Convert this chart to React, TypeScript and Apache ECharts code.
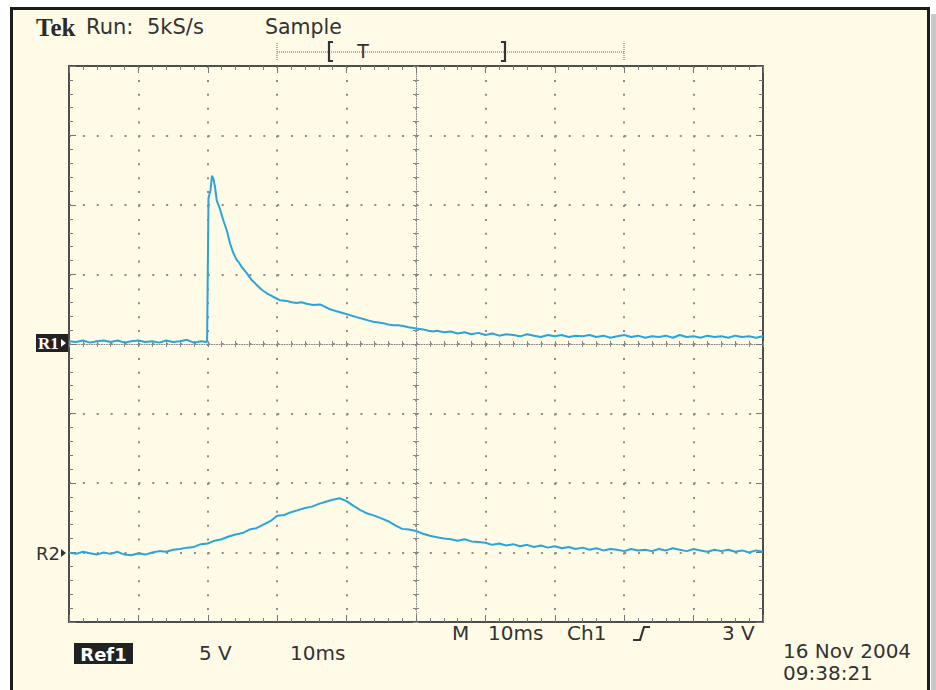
import React, { useEffect, useRef } from "react";
import * as echarts from "echarts";

// Time in ms (10 ms/div), level in screen divisions (R1 ref at 0, R2 ref at -3)
const r1Points: [number, number][] = [
  [0, 0.04], [1, 0.03], [2, 0.05], [3, 0.02], [4, 0.04], [5, 0.05], [6, 0.03], [7, 0.05], [8, 0.02], [9, 0.04],
  [10, 0.05], [11, 0.03], [12, 0.04], [13, 0.02], [14, 0.05], [15, 0.03], [16, 0.04], [17, 0.06], [18, 0.02], [19, 0.04],
  [19.9, 0.03], [20.1, 2.1], [20.4, 2.22], [20.6, 2.42], [20.8, 2.38], [21.04, 2.26], [21.28, 2.07], [21.76, 1.94],
  [22.23, 1.78], [22.72, 1.64], [23.2, 1.45], [23.63, 1.32], [24.16, 1.21], [24.5, 1.17], [24.88, 1.11], [25.61, 1.02],
  [26.33, 0.92], [27.05, 0.85], [27.77, 0.78], [28.49, 0.73], [29.4, 0.68], [30.4, 0.63], [31.37, 0.62], [32.1, 0.6],
  [32.81, 0.59], [33.5, 0.6], [34.25, 0.58], [35.2, 0.56], [36.17, 0.57], [36.6, 0.55], [37.61, 0.5], [38.58, 0.47],
  [39.3, 0.45], [40.02, 0.43], [40.97, 0.4], [41.7, 0.38], [42.41, 0.36], [43.1, 0.34], [43.85, 0.32], [44.6, 0.31],
  [45.29, 0.3], [46.0, 0.28], [46.73, 0.27], [47.4, 0.27], [48.17, 0.26], [48.9, 0.24], [49.61, 0.23], [50.3, 0.22],
  [51.05, 0.21], [51.8, 0.19], [52.5, 0.18], [53, 0.19], [54, 0.17], [55, 0.18], [56, 0.15], [57, 0.17], [58, 0.14],
  [59, 0.16], [60, 0.13], [61, 0.15], [62, 0.12], [63, 0.14], [64, 0.13], [65, 0.11], [66, 0.14], [67, 0.12],
  [68, 0.1], [69, 0.13], [70, 0.11], [71, 0.13], [72, 0.1], [73, 0.12], [74, 0.11], [75, 0.13], [76, 0.1], [77, 0.12],
  [78, 0.09], [79, 0.11], [80, 0.13], [81, 0.1], [82, 0.12], [83, 0.09], [84, 0.11], [85, 0.1], [86, 0.12], [87, 0.09],
  [88, 0.13], [89, 0.1], [90, 0.11], [91, 0.09], [92, 0.12], [93, 0.1], [94, 0.11], [95, 0.09], [96, 0.12], [97, 0.1],
  [98, 0.11], [99, 0.09], [100, 0.11],
];

const r2Points: [number, number][] = [
  [0, -3.0], [1, -3.02], [2, -2.99], [3, -3.01], [4, -3.03], [5, -3.0], [6, -3.02], [7, -2.99], [8, -3.03], [9, -3.04],
  [10, -3.01], [11, -3.03], [12, -3.0], [13, -2.98], [14, -2.99], [15, -2.96], [16, -2.95], [17, -2.93], [18, -2.92],
  [19, -2.88], [20, -2.87], [21, -2.83], [22, -2.81], [23, -2.77], [24, -2.74], [25, -2.72], [26, -2.67], [27, -2.65],
  [28, -2.6], [29, -2.55], [30, -2.47], [31, -2.46], [32, -2.42], [33, -2.39], [34, -2.36], [35, -2.34], [36, -2.3],
  [37, -2.27], [38, -2.24], [39, -2.22], [40, -2.26], [41, -2.33], [42, -2.39], [43, -2.44], [44, -2.47], [45, -2.51],
  [46, -2.55], [47, -2.61], [48, -2.66], [49, -2.67], [50, -2.69], [51, -2.73], [52, -2.76], [53, -2.78], [54, -2.8],
  [55, -2.81], [56, -2.83], [57, -2.81], [58, -2.84], [59, -2.85], [60, -2.86], [61, -2.89], [62, -2.87], [63, -2.9],
  [64, -2.88], [65, -2.91], [66, -2.89], [67, -2.92], [68, -2.9], [69, -2.93], [70, -2.91], [71, -2.94], [72, -2.92],
  [73, -2.95], [74, -2.93], [75, -2.96], [76, -2.94], [77, -2.97], [78, -2.95], [79, -2.96], [80, -2.98], [81, -2.95],
  [82, -2.97], [83, -2.96], [84, -2.98], [85, -2.95], [86, -2.97], [87, -2.94], [88, -2.96], [89, -2.98], [90, -2.95],
  [91, -2.97], [92, -2.99], [93, -2.96], [94, -2.98], [95, -2.96], [96, -2.99], [97, -2.97], [98, -3.0], [99, -2.97],
  [100, -2.99],
];

const headerTexts = ["Run:", "5kS/s", "Sample"];
const footerTexts = ["Ref1", "5 V", "10ms", "M", "10ms", "Ch1", "3 V"];
const dateTexts = ["16 Nov 2004", "09:38:21"];

const TRACE = "#29a5dc";
const INK = "#333333";
const DOT = "#8c8c8c";
const SANS = "DejaVu Sans";

export default function App() {
  const ref = useRef<HTMLDivElement>(null);

  useEffect(() => {
    if (!ref.current) return;
    const chart = echarts.init(ref.current, null, { renderer: "svg" });

    const borderTicks = {
      axisLine: { show: true, onZero: false, lineStyle: { color: "#4d4d4d", width: 2 } },
      axisTick: { show: true, inside: true, length: 7, lineStyle: { color: "#777", width: 1 } },
      minorTick: { show: true, splitNumber: 5, length: 4, lineStyle: { color: "#777", width: 1 } },
      axisLabel: { show: false },
    };
    const centerIn = {
      axisLine: { show: true, onZero: false, lineStyle: { color: "#888", width: 1, type: [1, 1.5] } },
      axisTick: { show: true, inside: true, length: 3, lineStyle: { color: "#888", width: 1 } },
      minorTick: { show: true, splitNumber: 5, length: 3, lineStyle: { color: "#888", width: 1 } },
      axisLabel: { show: false },
      splitLine: { show: false },
    };
    const centerOut = {
      axisLine: { show: false, onZero: false },
      axisTick: { show: true, inside: false, length: 3, lineStyle: { color: "#888", width: 1 } },
      minorTick: { show: true, splitNumber: 5, length: 3, lineStyle: { color: "#888", width: 1 } },
      axisLabel: { show: false },
      splitLine: { show: false },
    };
    const xBase = { type: "value", min: 0, max: 100, interval: 10 };
    const yBase = { type: "value", min: -4, max: 4, interval: 1 };

    const txt = (text: string, x: number, y: number, size: number, extra: any = {}) => ({
      type: "text",
      x,
      y,
      silent: true,
      style: {
        text,
        font: `${extra.weight || "normal"} ${size}px ${extra.family || SANS}`,
        fill: extra.fill || INK,
        align: extra.align || "left",
        verticalAlign: "middle",
      },
      z: 10,
    });

    chart.setOption({
      animation: false,
      backgroundColor: "transparent",
      grid: { left: 69, top: 66, right: 173, bottom: 68, show: false },
      xAxis: [
        {
          ...xBase,
          position: "bottom",
          ...borderTicks,
          splitLine: { show: true, lineStyle: { color: DOT, width: 2, type: [2, 11.9] } },
        },
        { ...xBase, position: "top", ...borderTicks, splitLine: { show: false } },
        { ...xBase, position: "bottom", offset: -278, ...centerIn },
        { ...xBase, position: "bottom", offset: -278, ...centerOut },
      ],
      yAxis: [
        {
          ...yBase,
          position: "left",
          ...borderTicks,
          splitLine: { show: true, lineStyle: { color: DOT, width: 2, type: [2, 11.88] } },
        },
        { ...yBase, position: "right", ...borderTicks, splitLine: { show: false } },
        { ...yBase, position: "left", offset: -347, ...centerIn },
        { ...yBase, position: "left", offset: -347, ...centerOut },
      ],
      series: [
        {
          name: "R1",
          type: "line",
          xAxisIndex: 0,
          yAxisIndex: 0,
          data: r1Points,
          showSymbol: false,
          lineStyle: { color: TRACE, width: 2 },
          z: 5,
        },
        {
          name: "R2",
          type: "line",
          xAxisIndex: 0,
          yAxisIndex: 0,
          data: r2Points,
          showSymbol: false,
          lineStyle: { color: TRACE, width: 2 },
          z: 5,
        },
      ],
      graphic: [
        // header
        txt("Tek", 36, 27, 25, { weight: "bold", family: "Liberation Serif", fill: "#2a2a2a" }),
        txt(headerTexts[0], 86, 27, 21),
        txt(headerTexts[1], 147, 27, 21),
        txt(headerTexts[2], 265, 27, 20.5),
        // record bar
        {
          type: "line",
          silent: true,
          shape: { x1: 277, y1: 52, x2: 624, y2: 52 },
          style: { stroke: "#999", lineWidth: 1.5, lineDash: [1, 1] },
        },
        {
          type: "line",
          silent: true,
          shape: { x1: 277, y1: 43, x2: 277, y2: 61 },
          style: { stroke: "#999", lineWidth: 1.5, lineDash: [1, 1] },
        },
        {
          type: "line",
          silent: true,
          shape: { x1: 624, y1: 43, x2: 624, y2: 61 },
          style: { stroke: "#999", lineWidth: 1.5, lineDash: [1, 1] },
        },
        {
          type: "polyline",
          silent: true,
          shape: { points: [[333, 42], [329, 42], [329, 61], [333, 61]] },
          style: { stroke: "#333", lineWidth: 2.2, fill: "none" },
        },
        {
          type: "polyline",
          silent: true,
          shape: { points: [[501, 42], [505, 42], [505, 61], [501, 61]] },
          style: { stroke: "#333", lineWidth: 2.2, fill: "none" },
        },
        txt("T", 363, 51, 19, { align: "center" }),
        // R1 marker
        { type: "rect", silent: true, shape: { x: 36, y: 334, width: 32, height: 18 }, style: { fill: "#222" } },
        txt("R1", 38, 343.5, 17, { weight: "bold", family: "Liberation Serif", fill: "#fff" }),
        {
          type: "polygon",
          silent: true,
          shape: { points: [[61, 339], [66, 343], [61, 347]] },
          style: { fill: "#fff" },
        },
        // R2 marker
        txt("R2", 36, 553, 18),
        {
          type: "polygon",
          silent: true,
          shape: { points: [[61, 549], [66, 553], [61, 557]] },
          style: { fill: "#333" },
        },
        // footer
        { type: "rect", silent: true, shape: { x: 74, y: 643, width: 59, height: 21 }, style: { fill: "#222" } },
        txt(footerTexts[0], 103.5, 654, 18, { weight: "bold", fill: "#fff", align: "center" }),
        txt(footerTexts[1], 199, 653, 20),
        txt(footerTexts[2], 290, 653, 20),
        txt(footerTexts[3], 452, 633, 20),
        txt(footerTexts[4], 488, 633, 20),
        txt(footerTexts[5], 567, 633, 20),
        {
          type: "polyline",
          silent: true,
          shape: { points: [[633, 640], [640, 640], [644, 627], [650, 627]] },
          style: { stroke: "#333", lineWidth: 2.2, fill: "none" },
        },
        txt(footerTexts[6], 722, 633, 20),
        txt(dateTexts[0], 783, 651, 20),
        txt(dateTexts[1], 783, 673, 20),
      ],
    });

    return () => chart.dispose();
  }, []);

  return (
    <div style={{ position: "fixed", left: 0, top: 0, width: 936, height: 690, overflow: "hidden", background: "#fff" }}>
      <div
        style={{
          position: "absolute",
          left: 10,
          top: 7,
          width: 920,
          height: 690,
          boxSizing: "border-box",
          border: "3px solid #1c1c1c",
          background: "#fffbe6",
        }}
      />
      <div style={{ position: "absolute", left: 931, top: 14, width: 5, height: 676, background: "#c8c8c8" }} />
      <div ref={ref} style={{ position: "absolute", left: 0, top: 0, width: 936, height: 690 }} />
    </div>
  );
}
